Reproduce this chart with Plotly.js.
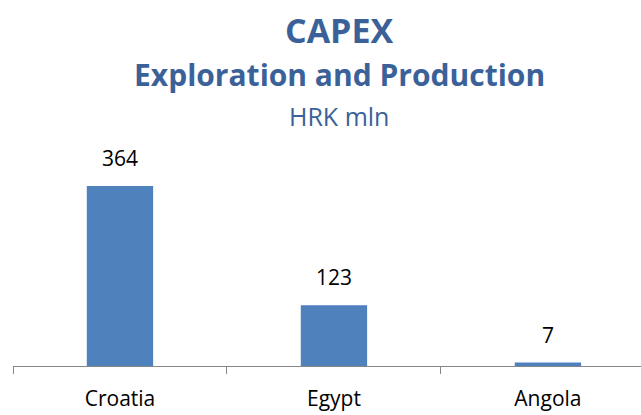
<!DOCTYPE html>
<html><head><meta charset="utf-8">
<script src="https://cdn.plot.ly/plotly-3.0.1.min.js"></script>
<style>html,body{margin:0;padding:0;background:#fff}</style>
</head><body><div id="chart" style="width:641px;height:415px"></div>
<script>
const categories = ["Croatia", "Egypt", "Angola"];
const values = [364, 123, 7];
const titleLines = ["CAPEX", "Exploration and Production", "HRK mln"];

const font = "Open Sans, Noto Sans, sans-serif";
const titleColor = "#3B6298";
const plotBottom = 366, plotHeight = 236;

const annotations = values.map((v, i) => ({
  x: categories[i], y: v, xref: "x", yref: "y",
  text: String(v), showarrow: false, yanchor: "bottom", yshift: 12,
  font: {family: font, size: 21, color: "#000"}
}));
const tAnn = [
  {text: "<b>" + titleLines[0] + "</b>", y: 30, size: 34},
  {text: "<b>" + titleLines[1] + "</b>", y: 74, size: 30},
  {text: titleLines[2], y: 116, size: 25}
];
tAnn.forEach(t => annotations.push({
  x: 333/641, y: (plotBottom - t.y) / plotHeight, xref: "paper", yref: "paper",
  xanchor: "center", yanchor: "middle", text: t.text, showarrow: false,
  font: {family: font, size: t.size, color: titleColor}
}));

Plotly.newPlot("chart", [{
  type: "bar", x: categories, y: values,
  marker: {color: "#4F81BD"}, width: 0.31, hoverinfo: "none"
}], {
  width: 641, height: 415,
  margin: {l: 13, r: 0, t: 130, b: 49, pad: 0},
  paper_bgcolor: "#fff", plot_bgcolor: "#fff",
  showlegend: false,
  xaxis: {
    range: [-0.5, 2.435], showline: true, linecolor: "#878787", linewidth: 1,
    ticks: "outside", tickson: "boundaries", ticklen: 7, tickcolor: "#878787",
    ticklabelstandoff: 14,
    tickfont: {family: font, size: 21, color: "#000"}, showgrid: false,
    fixedrange: true
  },
  yaxis: {range: [0, 477], visible: false, showgrid: false, zeroline: false, fixedrange: true},
  annotations: annotations
}, {displayModeBar: false, staticPlot: true});
</script></body></html>
